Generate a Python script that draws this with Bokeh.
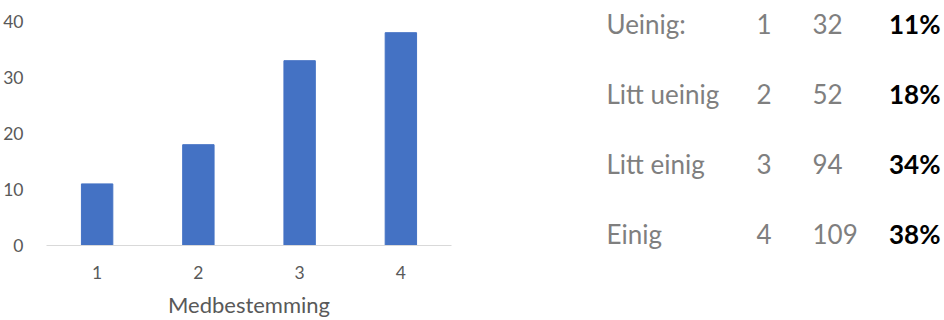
from bokeh.plotting import figure
from bokeh.layouts import row, column
from bokeh.models import ColumnDataSource, Range1d, FixedTicker, LabelSet
from bokeh.core.properties import value
from bokeh.embed import file_html
from bokeh.resources import INLINE

# Bar chart data (percent of answers per response level)
categories = ["1", "2", "3", "4"]
shares = [11, 18, 33, 38]
y_ticks = [0, 10, 20, 30, 40]

# Summary table data
labels = ["Ueinig:", "Litt ueinig", "Litt einig", "Einig"]
codes = ["1", "2", "3", "4"]
counts = ["32", "52", "94", "109"]
percents = ["11%", "18%", "34%", "38%"]

FONT = "Lato"
GRAY_TICK = "#595959"
GRAY_TEXT = "#7F7F7F"
BLUE = "#4472C4"

# ---- left: bar chart ----
p = figure(width=470, height=320, x_range=categories, y_range=Range1d(0, 40),
           output_backend="svg", toolbar_location=None, title_location=None,
           min_border_left=45, min_border_right=19,
           min_border_top=21, min_border_bottom=75)
p.outline_line_color = None
p.grid.visible = False
p.background_fill_color = "white"
p.border_fill_color = "white"

src = ColumnDataSource(dict(cat=categories, val=shares))
p.vbar(x="cat", top="val", width=0.31, bottom=0, fill_color=BLUE,
       line_color=BLUE, source=src)

p.yaxis.ticker = FixedTicker(ticks=y_ticks)
p.yaxis.axis_line_color = None
p.yaxis.major_tick_line_color = None
p.yaxis.minor_tick_line_color = None
p.yaxis.major_label_text_font = FONT
p.yaxis.major_label_text_font_size = "17.5px"
p.yaxis.major_label_text_color = GRAY_TICK
p.yaxis.major_label_standoff = 17

p.xaxis.axis_line_color = "#D9D9D9"
p.xaxis.axis_line_width = 1.2
p.xaxis.major_tick_line_color = None
p.xaxis.minor_tick_line_color = None
p.xaxis.major_label_text_font = FONT
p.xaxis.major_label_text_font_size = "17.5px"
p.xaxis.major_label_text_color = GRAY_TICK
p.xaxis.major_label_standoff = 14
p.xaxis.axis_label = "Medbestemming"
p.xaxis.axis_label_text_font = FONT
p.xaxis.axis_label_text_font_size = "22px"
p.xaxis.axis_label_text_font_style = "normal"
p.xaxis.axis_label_text_color = GRAY_TICK
p.xaxis.axis_label_standoff = 9

# ---- right: summary table ----
# full-height frame; rows sit 70.33 px apart, first baseline 33 px from the top
row_step = 70.33
first_off = 33
q = figure(width=474, height=320, x_range=Range1d(0, 474),
           y_range=Range1d((320 - first_off) / row_step, -first_off / row_step),
           output_backend="svg", toolbar_location=None, title_location=None,
           x_axis_type=None, y_axis_type=None,
           min_border_left=0, min_border_right=0,
           min_border_top=0, min_border_bottom=0)
q.outline_line_color = None
q.grid.visible = False
q.background_fill_color = "white"
q.border_fill_color = "white"

rows = list(range(len(labels)))
tsrc = ColumnDataSource(dict(row=rows, label=labels, code=codes,
                             count=counts, pct=percents))

# column anchors within the table panel
COL_LABEL, COL_CODE, COL_COUNT, COL_PCT = 136, 286, 342, 470


def table_column(x, field, color, align="left", style="normal"):
    q.add_layout(LabelSet(x=x, y="row", text=field, source=tsrc,
                          text_align=align, text_baseline="alphabetic",
                          text_font=value(FONT), text_font_size="26px",
                          text_font_style=style, text_color=color))


table_column(COL_LABEL, "label", GRAY_TEXT)
table_column(COL_CODE, "code", GRAY_TEXT)
table_column(COL_COUNT, "count", GRAY_TEXT)
table_column(COL_PCT, "pct", "black", align="right", style="bold")

layout = row(column(p), column(q))
open("out.html", "w").write(file_html(layout, INLINE))
